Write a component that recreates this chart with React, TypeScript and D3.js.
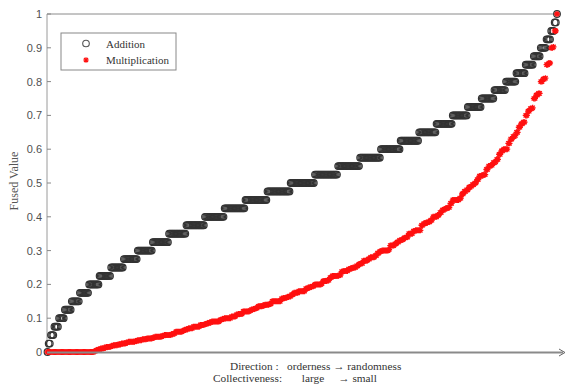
import { useMemo } from "react";
import * as d3 from "d3";

// staircase levels of the "Addition" series and how many points sit on each step
const additionLevels = [
  0, 0.025, 0.05, 0.075, 0.1, 0.125, 0.15, 0.175, 0.2, 0.225, 0.25, 0.275, 0.3, 0.325,
  0.35, 0.375, 0.4, 0.425, 0.45, 0.475, 0.5, 0.525, 0.55, 0.575, 0.6, 0.625, 0.65,
  0.675, 0.7, 0.725, 0.75, 0.775, 0.8, 0.825, 0.85, 0.875, 0.9, 0.925, 0.95, 0.975, 1,
];
const additionCounts = [
  1, 2, 3, 4, 5, 6, 7, 8, 9, 10, 11, 12, 13, 14, 15, 16, 17, 18, 19, 20, 21, 20, 19, 18,
  17, 16, 15, 14, 13, 12, 11, 10, 9, 8, 7, 6, 5, 4, 3, 2, 1,
];

// distinct "Multiplication" values and their repeat counts (sorted)
const multiplicationLevels = [
  0, 0.0025, 0.005, 0.0075, 0.01, 0.0125, 0.015, 0.0175, 0.02, 0.0225, 0.025, 0.0275,
  0.03, 0.0325, 0.035, 0.0375, 0.04, 0.0425, 0.045, 0.0475, 0.05, 0.0525, 0.055, 0.06,
  0.0625, 0.065, 0.0675, 0.07, 0.075, 0.08, 0.0825, 0.085, 0.0875, 0.09, 0.095, 0.0975,
  0.1, 0.105, 0.11, 0.1125, 0.12, 0.1225, 0.125, 0.1275, 0.13, 0.135, 0.1375, 0.14,
  0.1425, 0.15, 0.1575, 0.16, 0.1625, 0.165, 0.17, 0.175, 0.18, 0.1875, 0.19, 0.1925,
  0.195, 0.2, 0.2025, 0.21, 0.2125, 0.22, 0.225, 0.2275, 0.2375, 0.24, 0.245, 0.2475,
  0.25, 0.255, 0.26, 0.2625, 0.27, 0.275, 0.28, 0.285, 0.2925, 0.2975, 0.3, 0.3025,
  0.315, 0.32, 0.325, 0.33, 0.3325, 0.3375, 0.34, 0.35, 0.3575, 0.36, 0.375, 0.38,
  0.3825, 0.385, 0.39, 0.4, 0.405, 0.4125, 0.42, 0.4225, 0.425, 0.4275, 0.44, 0.45,
  0.455, 0.4675, 0.475, 0.48, 0.4875, 0.49, 0.495, 0.5, 0.51, 0.52, 0.5225, 0.525, 0.54,
  0.55, 0.5525, 0.56, 0.5625, 0.57, 0.585, 0.595, 0.6, 0.6175, 0.63, 0.6375, 0.64, 0.65,
  0.665, 0.675, 0.68, 0.7, 0.7125, 0.72, 0.7225, 0.75, 0.76, 0.765, 0.8, 0.8075, 0.81,
  0.85, 0.855, 0.9, 0.9025, 0.95, 1,
];
const multiplicationCounts = [
  41, 1, 2, 2, 3, 2, 4, 2, 4, 3, 4, 2, 6, 2, 4, 4, 5, 2, 6, 2, 6, 2, 2, 6, 1, 2, 2, 4, 6,
  4, 2, 2, 2, 7, 2, 2, 6, 4, 2, 4, 6, 1, 2, 2, 2, 4, 2, 4, 2, 8, 2, 3, 2, 2, 2, 4, 6, 2, 2,
  2, 2, 6, 1, 4, 2, 2, 6, 2, 2, 4, 2, 2, 3, 2, 2, 2, 4, 2, 4, 2, 2, 2, 6, 1, 4, 2, 2, 2, 2,
  2, 2, 4, 2, 5, 2, 2, 2, 2, 2, 4, 2, 2, 2, 1, 2, 2, 2, 6, 2, 2, 2, 2, 2, 1, 2, 2, 2, 2, 2,
  2, 2, 2, 2, 2, 1, 2, 2, 2, 4, 2, 2, 2, 1, 2, 2, 2, 2, 2, 2, 2, 1, 2, 2, 2, 2, 2, 1, 2, 2,
  2, 1, 2, 1,
];

const yTicks = [0, 0.1, 0.2, 0.3, 0.4, 0.5, 0.6, 0.7, 0.8, 0.9, 1];
const seriesNames = ["Addition", "Multiplication"];

const W = 566;
const H = 388;
const left = 47;
const top = 14;
const bottom = 352;
const plotRight = 565;

const serif = "'Liberation Serif', 'Times New Roman', serif";
const sans = "'Liberation Sans', Arial, sans-serif";

function expand(levels: number[], counts: number[]) {
  const out: number[] = [];
  levels.forEach((v, i) => {
    for (let k = 0; k < counts[i]; k++) out.push(v);
  });
  return out;
}

function star(x: number, y: number, r: number) {
  const d = r * 0.72;
  return `M${x - r},${y}H${x + r}M${x},${y - r}V${y + r}M${x - d},${y - d}L${x + d},${y + d}M${x - d},${y + d}L${x + d},${y - d}`;
}

export default function App() {
  const add = useMemo(() => expand(additionLevels, additionCounts), []);
  const mul = useMemo(() => expand(multiplicationLevels, multiplicationCounts), []);

  const x = d3.scaleLinear().domain([0, add.length - 1]).range([left + 0.5, 557]);
  const y = d3.scaleLinear().domain([0, 1]).range([bottom, top]);

  return (
    <svg
      width={W}
      height={H}
      style={{ position: "absolute", left: 0, top: 0, background: "#fff" }}
    >
      {/* frame */}
      <line x1={left} x2={plotRight - 4} y1={top} y2={top} stroke="#8a8a8a" strokeWidth={1} />
      <line x1={left} x2={left} y1={top} y2={bottom} stroke="#9a9a9a" strokeWidth={1} />

      {/* y ticks */}
      {yTicks.map((t) => (
        <g key={t}>
          <line x1={left} x2={left + 4} y1={y(t)} y2={y(t)} stroke="#888" />
          <text
            x={left - 5}
            y={y(t) + 4}
            textAnchor="end"
            fontFamily={sans}
            fontSize={11}
            fill="#505050"
          >
            {d3.format("~g")(t)}
          </text>
        </g>
      ))}

      <text
        transform={`translate(18,181) rotate(-90)`}
        textAnchor="middle"
        fontFamily={serif}
        fontSize={12}
        fill="#555"
      >
        Fused Value
      </text>

      {/* addition circles */}
      <g fill="none" stroke="#333" strokeWidth={1.2}>
        {add.map((v, i) => (
          <circle key={i} cx={x(i)} cy={y(v)} r={3.3} />
        ))}
      </g>

      {/* multiplication asterisks */}
      <g stroke="#ff1010" strokeWidth={1.3}>
        {mul.map((v, i) => (
          <path key={i} d={star(x(i), y(v), 3)} />
        ))}
      </g>

      {/* x axis with arrow */}
      <line x1={left} x2={plotRight - 2} y1={bottom + 0.5} y2={bottom + 0.5} stroke="#8a8a8a" strokeWidth={1.8} />
      <path
        d={`M${plotRight - 6},${bottom - 3}L${plotRight},${bottom + 0.5}L${plotRight - 6},${bottom + 4}`}
        fill="none"
        stroke="#666"
        strokeWidth={1}
      />

      <g fontFamily={serif} fontSize={11.3} fill="#333">
        <text x={230} y={370} xmlSpace="preserve">
          Direction :   orderness → randomness
        </text>
        <text x={213} y={382} xmlSpace="preserve">
          Collectiveness:       large     → small
        </text>
      </g>

      {/* legend */}
      <rect x={61} y={33} width={115} height={37} fill="#fff" stroke="#888" />
      <circle cx={86} cy={43.5} r={3.3} fill="none" stroke="#555" strokeWidth={1.1} />
      <path d={star(86, 60, 2.8)} stroke="#ff1010" strokeWidth={1.2} />
      <g fontFamily={serif} fontSize={11} fill="#333">
        <text x={106} y={47.5}>{seriesNames[0]}</text>
        <text x={106} y={64}>{seriesNames[1]}</text>
      </g>
    </svg>
  );
}
